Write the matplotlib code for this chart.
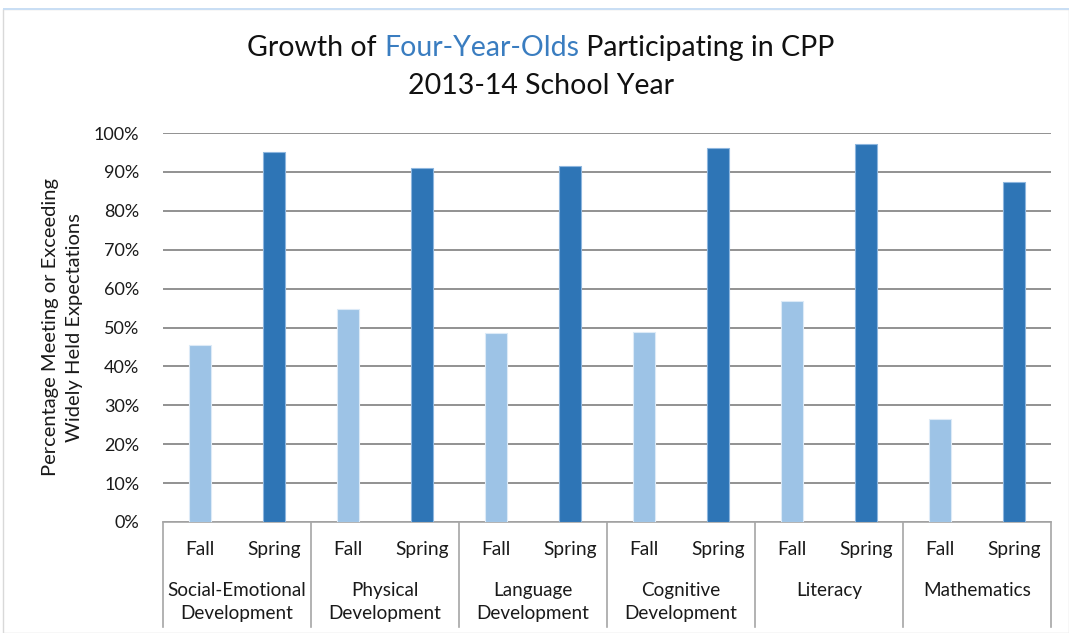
import matplotlib
matplotlib.use("Agg")
import numpy as np
import matplotlib.pyplot as plt
from matplotlib.patches import Rectangle

# data
domains = ["Social-Emotional\nDevelopment", "Physical\nDevelopment", "Language\nDevelopment",
           "Cognitive\nDevelopment", "Literacy", "Mathematics"]
seasons = ["Fall", "Spring"]
fall = [45.5, 54.8, 48.5, 48.8, 56.7, 26.5]
spring = [95.2, 90.9, 91.5, 96.1, 97.2, 87.3]
y_ticks = [0, 10, 20, 30, 40, 50, 60, 70, 80, 90, 100]

fall_color = "#9DC3E6"
spring_color = "#2E75B6"
grid_color = "#7F7F7F"
txt_color = "#1A1A1A"

plt.rcParams['font.family'] = ['Lato', 'DejaVu Sans']

fig = plt.figure(figsize=(10.69, 6.33), dpi=100)
W, H = 1069, 633

# outer chart frame
fig.patches.append(Rectangle((3 / W, 0), 1 - 3 / W, 1 - 9 / H, transform=fig.transFigure,
                             fill=False, edgecolor="#D9D9D9", linewidth=1.0))
fig.patches.append(Rectangle((3 / W, 1 - 10 / H), 1 - 3 / W, 2 / H, transform=fig.transFigure,
                             facecolor="#C9DEF4", edgecolor="none"))

ax = fig.add_axes([163 / W, 1 - 522 / H, (1051 - 163) / W, (522 - 133) / H])

n = len(domains)
x_fall = np.arange(n) * 2 + 0.5
x_spring = np.arange(n) * 2 + 1.5
bw = 0.31
ax.bar(x_fall, fall, width=bw, color=fall_color, edgecolor="#DCEAF7", linewidth=0.8, zorder=3)
ax.bar(x_spring, spring, width=bw, color=spring_color, edgecolor="#8DB6DE", linewidth=0.8, zorder=3)

ax.set_xlim(0, 2 * n)
ax.set_ylim(0, 100)
ax.set_yticks(y_ticks)
ax.set_yticklabels([f"{v}%" for v in y_ticks], fontsize=13, color=txt_color)
ax.tick_params(axis='y', length=0, pad=17)
ax.set_xticks([])
ax.yaxis.grid(True, color=grid_color, linewidth=1.2, zorder=0)
for s in ["top", "right", "left"]:
    ax.spines[s].set_visible(False)
ax.spines["bottom"].set_color("#A6A6A6")
ax.spines["bottom"].set_linewidth(1.2)

# category axis labels
xt = ax.get_xaxis_transform()
for i in range(n):
    ax.text(x_fall[i], -0.07, seasons[0], transform=xt, ha="center", va="center",
            fontsize=13.8, color=txt_color)
    ax.text(x_spring[i], -0.07, seasons[1], transform=xt, ha="center", va="center",
            fontsize=13.8, color=txt_color)
    ax.text(2 * i + 1, -0.155, domains[i], transform=xt, ha="center", va="top",
            fontsize=13.6, color=txt_color, linespacing=1.42)
for i in range(n + 1):
    ax.plot([2 * i, 2 * i], [0, -0.27], transform=xt, color="#A6A6A6",
            linewidth=1.2, clip_on=False)

ax.set_ylabel("Percentage Meeting or Exceeding\nWidely Held Expectations",
              fontsize=14.5, color=txt_color, linespacing=1.5, labelpad=8)

# title with coloured middle part
parts = [("Growth of ", "#111111"), ("Four-Year-Olds", "#3A7DC0"), (" Participating in CPP", "#111111")]
renderer = fig.canvas.get_renderer()
texts = []
for s, c in parts:
    t = fig.text(0, 1 - 48 / H, s, fontsize=20.5, color=c, va="center", ha="left")
    texts.append(t)
widths = [t.get_window_extent(renderer).width for t in texts]
total = sum(widths)
x0 = 541 - total / 2
for t, w in zip(texts, widths):
    t.set_x(x0 / W)
    x0 += w
fig.text(541 / W, 1 - 86 / H, "2013-14 School Year", fontsize=20.5, color="#111111",
         ha="center", va="center")

fig.savefig("out.png", dpi=100)
